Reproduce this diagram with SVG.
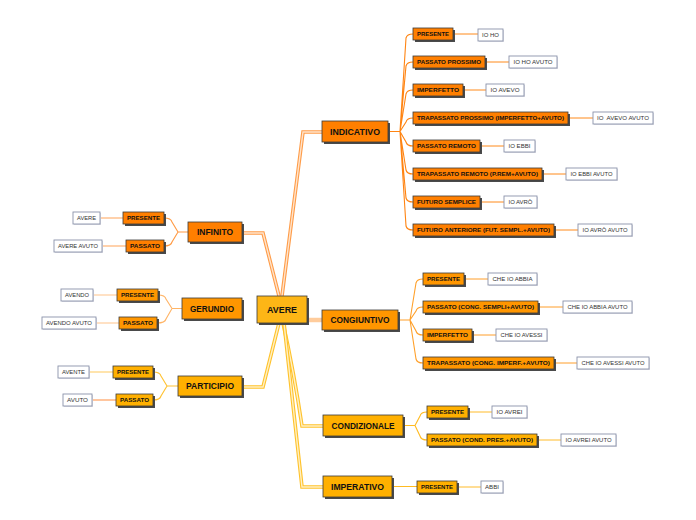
<svg xmlns="http://www.w3.org/2000/svg" width="696" height="520" viewBox="0 0 696 520">
<style>
text{font-family:"Liberation Sans",Arial,sans-serif;}
.sh{fill:#4a4a4a;}
.bx{stroke:#3a3a3a;stroke-width:0.8;}
.o1{fill:#ff7f00;}
.o2{fill:#ff9600;}
.o3{fill:#ffb000;}
.o0{fill:#fdb616;}
.mt{font-size:9px;font-weight:bold;fill:#111;}
.st{font-size:6px;font-weight:bold;fill:#111;}
.lf{fill:#fff;stroke:#8a92aa;stroke-width:0.9;}
.lsh{fill:#dcdde4;}
.lt{font-size:5.5px;fill:#333;}
.c{fill:none;}
.b1{stroke:#ff8412;stroke-width:1.1;}
.b2{stroke:#ffa02a;stroke-width:1.1;}
.b3{stroke:#ffbb22;stroke-width:1.1;}
.bi{stroke:#ff9a44;stroke-width:1.1;}
.bg{stroke:#ffb466;stroke-width:1.1;}
.bp{stroke:#ffc232;stroke-width:1.1;}
.l1{stroke:#ff8a1a;stroke-width:1;}
.l2{stroke:#ff9e2a;stroke-width:1;}
.l3{stroke:#ffbb2a;stroke-width:1;}
.li{stroke:#ffa458;stroke-width:1.2;}
.lg{stroke:#ffc48a;stroke-width:1.2;}
.lp1{stroke:#ffd277;stroke-width:1.2;}
.lp2{stroke:#ffa060;stroke-width:1.2;}
.mo{stroke:#ff9c48;stroke-width:3.6;}
.mi{stroke:#ffe4cc;stroke-width:1.4;}
.ao{stroke:#ffc22a;stroke-width:3.6;}
.ai{stroke:#fff0c4;stroke-width:1.4;}
.cg{stroke:#ffcc9c;stroke-width:4.5;}
</style>
<g id="connectors">
<path class="c mo" d="M282,296 L303,132 H322"/>
<path class="c mi" d="M282,296 L303,132 H322"/>
<path class="c mo" d="M242,233 H263 L279,296"/>
<path class="c mi" d="M242,233 H263 L279,296"/>
<path class="c ao" d="M242,387 H263 L279,323"/>
<path class="c ai" d="M242,387 H263 L279,323"/>
<path class="c ao" d="M283,323 Q294,372 302,426 H323"/>
<path class="c ai" d="M283,323 Q294,372 302,426 H323"/>
<path class="c ao" d="M284,323 L302,487 H323"/>
<path class="c ai" d="M284,323 L302,487 H323"/>
<path class="c cg" d="M307,320 H322"/>
<path class="c b1" d="M388,131.5 H400 M400,131.5 L406,38 Q407,34 413,34 M400,131.5 L406,66 Q407,62 413,62 M400,131.5 L406,94 Q407,90 413,90 M400,131.5 L406,122 Q407,118 413,118 M400,131.5 L406,142 Q407,146 413,146 M400,131.5 L406,170 Q407,174 413,174 M400,131.5 L406,198 Q407,202 413,202 M400,131.5 L406,226 Q407,230 413,230"/>
<path class="c b2" d="M398,320 H410 M410,320 L416,283 Q417,279 423,279 M410,320 L416,311 Q417,307 423,307 M410,320 L416,331 Q417,335 423,335 M410,320 L416,359 Q417,363 423,363"/>
<path class="c b3" d="M403,425.5 H415 M415,425.5 L420,416 Q421,412 427,412 M415,425.5 L420,436 Q421,440 427,440 M392,486.5 H417"/>
<path class="c bi" d="M188,232 H178 M178,232 L172,222 Q171,218 164,218 M178,232 L172,242 Q171,246 164,246"/>
<path class="c bg" d="M182,308.5 H172 M172,308.5 L166,299 Q165,295 158,295 M172,308.5 L166,319 Q165,323 157,323"/>
<path class="c bp" d="M178,386 H167 M167,386 L161,376 Q160,372 153,372 M167,386 L161,396 Q160,400 153,400"/>
<path class="c l1" d="M453,34 H478 M485,62 H509 M463,90 H486 M568,118 H593 M480,146 H504 M542,174 H566 M480,202 H504 M554,230 H578"/>
<path class="c l2" d="M464,279 H488 M538,307 H563 M472,335 H496 M554,363 H577"/>
<path class="c l3" d="M468,412 H492 M537,440 H561 M457,487 H481"/>
<path class="c li" d="M123,218 H100 M126,246 H102"/>
<path class="c lg" d="M117,295 H93 M119,323 H96"/>
<path class="c lp1" d="M113,372 H89"/>
<path class="c lp2" d="M116,400 H92"/>
</g>
<g id="n-avere"><rect class="sh" x="259" y="298" width="50" height="27"/><rect class="o0 bx" x="257" y="296" width="50" height="27"/><text class="mt" x="282" y="312.7" text-anchor="middle" textLength="30" lengthAdjust="spacingAndGlyphs">AVERE</text></g>
<g id="n-indicativo"><rect class="sh" x="324" y="123" width="66" height="21"/><rect class="o1 bx" x="322" y="121" width="66" height="21"/><text class="mt" x="355" y="134.7" text-anchor="middle" textLength="50" lengthAdjust="spacingAndGlyphs">INDICATIVO</text></g>
<g id="n-congiuntivo"><rect class="sh" x="324" y="312" width="76" height="20"/><rect class="o2 bx" x="322" y="310" width="76" height="20"/><text class="mt" x="360" y="323.2" text-anchor="middle" textLength="59" lengthAdjust="spacingAndGlyphs">CONGIUNTIVO</text></g>
<g id="n-infinito"><rect class="sh" x="190" y="224" width="54" height="20"/><rect class="o1 bx" x="188" y="222" width="54" height="20"/><text class="mt" x="215" y="235.2" text-anchor="middle" textLength="36" lengthAdjust="spacingAndGlyphs">INFINITO</text></g>
<g id="n-gerundio"><rect class="sh" x="184" y="300" width="60" height="21"/><rect class="o2 bx" x="182" y="298" width="60" height="21"/><text class="mt" x="212" y="311.7" text-anchor="middle" textLength="44" lengthAdjust="spacingAndGlyphs">GERUNDIO</text></g>
<g id="n-participio"><rect class="sh" x="180" y="378" width="64" height="20"/><rect class="o3 bx" x="178" y="376" width="64" height="20"/><text class="mt" x="210" y="389.2" text-anchor="middle" textLength="48" lengthAdjust="spacingAndGlyphs">PARTICIPIO</text></g>
<g id="n-condizionale"><rect class="sh" x="325" y="417" width="80" height="21"/><rect class="o3 bx" x="323" y="415" width="80" height="21"/><text class="mt" x="363" y="428.7" text-anchor="middle" textLength="63" lengthAdjust="spacingAndGlyphs">CONDIZIONALE</text></g>
<g id="n-imperativo"><rect class="sh" x="325" y="478" width="69" height="21"/><rect class="o3 bx" x="323" y="476" width="69" height="21"/><text class="mt" x="357.5" y="489.7" text-anchor="middle" textLength="53" lengthAdjust="spacingAndGlyphs">IMPERATIVO</text></g>

<g id="ind-presente"><rect class="sh" x="415" y="30" width="40" height="12"/><rect class="o1 bx" x="413" y="28" width="40" height="12"/><text class="st" x="433" y="36.1" text-anchor="middle" textLength="32" lengthAdjust="spacingAndGlyphs">PRESENTE</text></g>
<g id="ind-pp"><rect class="sh" x="415" y="58" width="72" height="12"/><rect class="o1 bx" x="413" y="56" width="72" height="12"/><text class="st" x="449" y="64.1" text-anchor="middle" textLength="64" lengthAdjust="spacingAndGlyphs">PASSATO PROSSIMO</text></g>
<g id="ind-imp"><rect class="sh" x="415" y="86" width="50" height="12"/><rect class="o1 bx" x="413" y="84" width="50" height="12"/><text class="st" x="438" y="92.1" text-anchor="middle" textLength="42" lengthAdjust="spacingAndGlyphs">IMPERFETTO</text></g>
<g id="ind-tp"><rect class="sh" x="415" y="114" width="155" height="12"/><rect class="o1 bx" x="413" y="112" width="155" height="12"/><text class="st" x="490.5" y="120.1" text-anchor="middle" textLength="147" lengthAdjust="spacingAndGlyphs">TRAPASSATO PROSSIMO (IMPERFETTO+AVUTO)</text></g>
<g id="ind-pr"><rect class="sh" x="415" y="142" width="67" height="12"/><rect class="o1 bx" x="413" y="140" width="67" height="12"/><text class="st" x="446.5" y="148.1" text-anchor="middle" textLength="59" lengthAdjust="spacingAndGlyphs">PASSATO REMOTO</text></g>
<g id="ind-tr"><rect class="sh" x="415" y="170" width="129" height="12"/><rect class="o1 bx" x="413" y="168" width="129" height="12"/><text class="st" x="477.5" y="176.1" text-anchor="middle" textLength="121" lengthAdjust="spacingAndGlyphs">TRAPASSATO REMOTO (P.REM+AVUTO)</text></g>
<g id="ind-fs"><rect class="sh" x="415" y="198" width="67" height="12"/><rect class="o1 bx" x="413" y="196" width="67" height="12"/><text class="st" x="446.5" y="204.1" text-anchor="middle" textLength="59" lengthAdjust="spacingAndGlyphs">FUTURO SEMPLICE</text></g>
<g id="ind-fa"><rect class="sh" x="415" y="226" width="141" height="12"/><rect class="o1 bx" x="413" y="224" width="141" height="12"/><text class="st" x="483.5" y="232.1" text-anchor="middle" textLength="133" lengthAdjust="spacingAndGlyphs">FUTURO ANTERIORE (FUT. SEMPL.+AVUTO)</text></g>

<g id="leaf-io-ho"><rect class="lsh" x="479" y="30" width="25" height="12"/><rect class="lf" x="478" y="29" width="25" height="12"/><text class="lt" x="490.5" y="37" text-anchor="middle" textLength="17" lengthAdjust="spacingAndGlyphs">IO HO</text></g>
<g id="leaf-io-ho-avuto"><rect class="lsh" x="510" y="57" width="48" height="12"/><rect class="lf" x="509" y="56" width="48" height="12"/><text class="lt" x="533" y="64" text-anchor="middle" textLength="39" lengthAdjust="spacingAndGlyphs">IO HO AVUTO</text></g>
<g id="leaf-io-avevo"><rect class="lsh" x="487" y="85" width="38" height="12"/><rect class="lf" x="486" y="84" width="38" height="12"/><text class="lt" x="505" y="92" text-anchor="middle" textLength="29" lengthAdjust="spacingAndGlyphs">IO AVEVO</text></g>
<g id="leaf-io-avevo-avuto"><rect class="lsh" x="594" y="113" width="60" height="12"/><rect class="lf" x="593" y="112" width="60" height="12"/><text class="lt" x="623" y="120" text-anchor="middle" textLength="52" lengthAdjust="spacingAndGlyphs" xml:space="preserve">IO  AVEVO AVUTO</text></g>
<g id="leaf-io-ebbi"><rect class="lsh" x="505" y="141" width="31" height="12"/><rect class="lf" x="504" y="140" width="31" height="12"/><text class="lt" x="519.5" y="148" text-anchor="middle" textLength="22" lengthAdjust="spacingAndGlyphs">IO EBBI</text></g>
<g id="leaf-io-ebbi-avuto"><rect class="lsh" x="567" y="169" width="51" height="12"/><rect class="lf" x="566" y="168" width="51" height="12"/><text class="lt" x="591.5" y="176" text-anchor="middle" textLength="42" lengthAdjust="spacingAndGlyphs">IO EBBI AVUTO</text></g>
<g id="leaf-io-avro"><rect class="lsh" x="505" y="197" width="33" height="12"/><rect class="lf" x="504" y="196" width="33" height="12"/><text class="lt" x="520.5" y="204" text-anchor="middle" textLength="24" lengthAdjust="spacingAndGlyphs">IO AVRÒ</text></g>
<g id="leaf-io-avro-avuto"><rect class="lsh" x="579" y="225" width="54" height="12"/><rect class="lf" x="578" y="224" width="54" height="12"/><text class="lt" x="605" y="232" text-anchor="middle" textLength="45" lengthAdjust="spacingAndGlyphs">IO AVRÒ AVUTO</text></g>

<g id="cong-presente"><rect class="sh" x="425" y="275" width="41" height="12"/><rect class="o2 bx" x="423" y="273" width="41" height="12"/><text class="st" x="443.5" y="281.1" text-anchor="middle" textLength="33" lengthAdjust="spacingAndGlyphs">PRESENTE</text></g>
<g id="cong-passato"><rect class="sh" x="425" y="303" width="115" height="12"/><rect class="o2 bx" x="423" y="301" width="115" height="12"/><text class="st" x="480.5" y="309.1" text-anchor="middle" textLength="107" lengthAdjust="spacingAndGlyphs">PASSATO (CONG. SEMPLI+AVUTO)</text></g>
<g id="cong-imp"><rect class="sh" x="425" y="331" width="49" height="12"/><rect class="o2 bx" x="423" y="329" width="49" height="12"/><text class="st" x="447.5" y="337.1" text-anchor="middle" textLength="41" lengthAdjust="spacingAndGlyphs">IMPERFETTO</text></g>
<g id="cong-trap"><rect class="sh" x="425" y="359" width="131" height="12"/><rect class="o2 bx" x="423" y="357" width="131" height="12"/><text class="st" x="488.5" y="365.1" text-anchor="middle" textLength="123" lengthAdjust="spacingAndGlyphs">TRAPASSATO (CONG. IMPERF.+AVUTO)</text></g>
<g id="leaf-che-io-abbia"><rect class="lsh" x="489" y="274" width="49" height="12"/><rect class="lf" x="488" y="273" width="49" height="12"/><text class="lt" x="512.5" y="281" text-anchor="middle" textLength="40" lengthAdjust="spacingAndGlyphs">CHE IO ABBIA</text></g>
<g id="leaf-che-io-abbia-avuto"><rect class="lsh" x="564" y="302" width="69" height="12"/><rect class="lf" x="563" y="301" width="69" height="12"/><text class="lt" x="597.5" y="309" text-anchor="middle" textLength="60" lengthAdjust="spacingAndGlyphs">CHE IO ABBIA AVUTO</text></g>
<g id="leaf-che-io-avessi"><rect class="lsh" x="497" y="330" width="51" height="12"/><rect class="lf" x="496" y="329" width="51" height="12"/><text class="lt" x="521.5" y="337" text-anchor="middle" textLength="42" lengthAdjust="spacingAndGlyphs">CHE IO AVESSI</text></g>
<g id="leaf-che-io-avessi-avuto"><rect class="lsh" x="578" y="358" width="72" height="12"/><rect class="lf" x="577" y="357" width="72" height="12"/><text class="lt" x="613" y="365" text-anchor="middle" textLength="63" lengthAdjust="spacingAndGlyphs">CHE IO AVESSI AVUTO</text></g>

<g id="cond-presente"><rect class="sh" x="429" y="408" width="41" height="12"/><rect class="o3 bx" x="427" y="406" width="41" height="12"/><text class="st" x="447.5" y="414.1" text-anchor="middle" textLength="33" lengthAdjust="spacingAndGlyphs">PRESENTE</text></g>
<g id="cond-passato"><rect class="sh" x="429" y="436" width="110" height="12"/><rect class="o3 bx" x="427" y="434" width="110" height="12"/><text class="st" x="482" y="442.1" text-anchor="middle" textLength="102" lengthAdjust="spacingAndGlyphs">PASSATO (COND. PRES.+AVUTO)</text></g>
<g id="leaf-io-avrei"><rect class="lsh" x="493" y="407" width="35" height="12"/><rect class="lf" x="492" y="406" width="35" height="12"/><text class="lt" x="509.5" y="414" text-anchor="middle" textLength="26" lengthAdjust="spacingAndGlyphs">IO AVREI</text></g>
<g id="leaf-io-avrei-avuto"><rect class="lsh" x="562" y="435" width="55" height="12"/><rect class="lf" x="561" y="434" width="55" height="12"/><text class="lt" x="588.5" y="442" text-anchor="middle" textLength="46" lengthAdjust="spacingAndGlyphs">IO AVREI AVUTO</text></g>
<g id="imp-presente"><rect class="sh" x="419" y="483" width="40" height="12"/><rect class="o3 bx" x="417" y="481" width="40" height="12"/><text class="st" x="437" y="489.1" text-anchor="middle" textLength="32" lengthAdjust="spacingAndGlyphs">PRESENTE</text></g>
<g id="leaf-abbi"><rect class="lsh" x="482" y="482" width="22" height="12"/><rect class="lf" x="481" y="481" width="22" height="12"/><text class="lt" x="492" y="489" text-anchor="middle" textLength="14" lengthAdjust="spacingAndGlyphs">ABBI</text></g>

<g id="inf-presente"><rect class="sh" x="125" y="214" width="41" height="12"/><rect class="o1 bx" x="123" y="212" width="41" height="12"/><text class="st" x="143.5" y="220.1" text-anchor="middle" textLength="33" lengthAdjust="spacingAndGlyphs">PRESENTE</text></g>
<g id="inf-passato"><rect class="sh" x="128" y="242" width="38" height="12"/><rect class="o1 bx" x="126" y="240" width="38" height="12"/><text class="st" x="145" y="248.1" text-anchor="middle" textLength="30" lengthAdjust="spacingAndGlyphs">PASSATO</text></g>
<g id="leaf-avere"><rect class="lsh" x="74" y="213" width="27" height="12"/><rect class="lf" x="73" y="212" width="27" height="12"/><text class="lt" x="86.5" y="220" text-anchor="middle" textLength="19" lengthAdjust="spacingAndGlyphs">AVERE</text></g>
<g id="leaf-avere-avuto"><rect class="lsh" x="55" y="241" width="48" height="12"/><rect class="lf" x="54" y="240" width="48" height="12"/><text class="lt" x="78" y="248" text-anchor="middle" textLength="40" lengthAdjust="spacingAndGlyphs">AVERE AVUTO</text></g>

<g id="ger-presente"><rect class="sh" x="119" y="291" width="41" height="12"/><rect class="o2 bx" x="117" y="289" width="41" height="12"/><text class="st" x="137.5" y="297.1" text-anchor="middle" textLength="33" lengthAdjust="spacingAndGlyphs">PRESENTE</text></g>
<g id="ger-passato"><rect class="sh" x="121" y="319" width="38" height="12"/><rect class="o2 bx" x="119" y="317" width="38" height="12"/><text class="st" x="138" y="325.1" text-anchor="middle" textLength="30" lengthAdjust="spacingAndGlyphs">PASSATO</text></g>
<g id="leaf-avendo"><rect class="lsh" x="62" y="290" width="32" height="12"/><rect class="lf" x="61" y="289" width="32" height="12"/><text class="lt" x="77" y="297" text-anchor="middle" textLength="24" lengthAdjust="spacingAndGlyphs">AVENDO</text></g>
<g id="leaf-avendo-avuto"><rect class="lsh" x="43" y="318" width="54" height="12"/><rect class="lf" x="42" y="317" width="54" height="12"/><text class="lt" x="69" y="325" text-anchor="middle" textLength="46" lengthAdjust="spacingAndGlyphs">AVENDO AVUTO</text></g>

<g id="part-presente"><rect class="sh" x="115" y="368" width="40" height="12"/><rect class="o3 bx" x="113" y="366" width="40" height="12"/><text class="st" x="133" y="374.1" text-anchor="middle" textLength="32" lengthAdjust="spacingAndGlyphs">PRESENTE</text></g>
<g id="part-passato"><rect class="sh" x="118" y="396" width="37" height="12"/><rect class="o3 bx" x="116" y="394" width="37" height="12"/><text class="st" x="134.5" y="402.1" text-anchor="middle" textLength="29" lengthAdjust="spacingAndGlyphs">PASSATO</text></g>
<g id="leaf-avente"><rect class="lsh" x="59" y="367" width="31" height="12"/><rect class="lf" x="58" y="366" width="31" height="12"/><text class="lt" x="73.5" y="374" text-anchor="middle" textLength="23" lengthAdjust="spacingAndGlyphs">AVENTE</text></g>
<g id="leaf-avuto"><rect class="lsh" x="64" y="395" width="29" height="12"/><rect class="lf" x="63" y="394" width="29" height="12"/><text class="lt" x="77.5" y="402" text-anchor="middle" textLength="21" lengthAdjust="spacingAndGlyphs">AVUTO</text></g>
</svg>
